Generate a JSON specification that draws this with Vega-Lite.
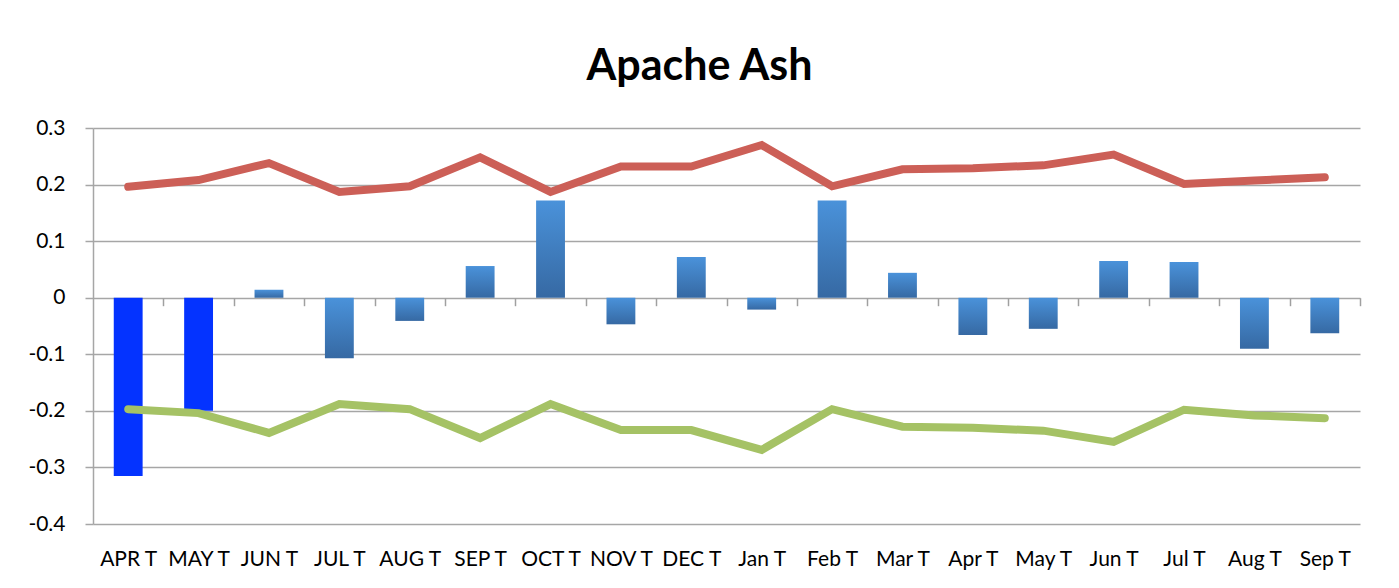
{
  "$schema": "https://vega.github.io/schema/vega-lite/v6.json",
  "width": 1267,
  "height": 396,
  "autosize": {"type": "none"},
  "padding": {"left": 93, "top": 128, "right": 39, "bottom": 64},
  "background": "white",
  "title": {"text": "Apache Ash", "font": "Lato", "fontSize": 43, "fontWeight": "bold", "color": "black", "anchor": "middle", "dx": -27, "offset": 28},
  "config": {
    "view": {"stroke": null},
    "axis": {"labelFont": "Lato", "labelFontSize": 21, "labelColor": "black"}
  },
  "data": {
    "values": [
      {"month": "APR T", "change": -0.315, "upper": 0.196, "lower": -0.197, "group": "highlight"},
      {"month": "MAY T", "change": -0.200, "upper": 0.208, "lower": -0.204, "group": "highlight"},
      {"month": "JUN T", "change": 0.014, "upper": 0.238, "lower": -0.239, "group": "normal"},
      {"month": "JUL T", "change": -0.107, "upper": 0.187, "lower": -0.188, "group": "normal"},
      {"month": "AUG T", "change": -0.041, "upper": 0.197, "lower": -0.197, "group": "normal"},
      {"month": "SEP T", "change": 0.056, "upper": 0.248, "lower": -0.248, "group": "normal"},
      {"month": "OCT T", "change": 0.172, "upper": 0.187, "lower": -0.188, "group": "normal"},
      {"month": "NOV T", "change": -0.047, "upper": 0.232, "lower": -0.234, "group": "normal"},
      {"month": "DEC T", "change": 0.072, "upper": 0.232, "lower": -0.234, "group": "normal"},
      {"month": "Jan T", "change": -0.021, "upper": 0.270, "lower": -0.269, "group": "normal"},
      {"month": "Feb T", "change": 0.172, "upper": 0.197, "lower": -0.197, "group": "normal"},
      {"month": "Mar T", "change": 0.044, "upper": 0.227, "lower": -0.228, "group": "normal"},
      {"month": "Apr T", "change": -0.066, "upper": 0.229, "lower": -0.230, "group": "normal"},
      {"month": "May T", "change": -0.055, "upper": 0.234, "lower": -0.235, "group": "normal"},
      {"month": "Jun T", "change": 0.065, "upper": 0.253, "lower": -0.255, "group": "normal"},
      {"month": "Jul T", "change": 0.063, "upper": 0.201, "lower": -0.198, "group": "normal"},
      {"month": "Aug T", "change": -0.090, "upper": 0.207, "lower": -0.208, "group": "normal"},
      {"month": "Sep T", "change": -0.063, "upper": 0.213, "lower": -0.213, "group": "normal"}
    ]
  },
  "encoding": {
    "x": {
      "field": "month", "type": "ordinal",
      "scale": {
        "domain": ["APR T", "MAY T", "JUN T", "JUL T", "AUG T", "SEP T", "OCT T", "NOV T", "DEC T", "Jan T", "Feb T", "Mar T", "Apr T", "May T", "Jun T", "Jul T", "Aug T", "Sep T"],
        "paddingInner": 0.59, "paddingOuter": 0.295
      },
      "axis": {
        "title": null, "orient": "bottom", "offset": -226.3, "domain": false,
        "ticks": true, "tickColor": "#a0a0a0", "tickWidth": 1.5, "tickSize": 8,
        "tickOffset": 35.2, "labelOffset": -35.2, "labelPadding": 243,
        "labelAngle": 0, "grid": false
      }
    }
  },
  "layer": [
    {
      "transform": [{"filter": "datum.group == 'normal'"}],
      "mark": {
        "type": "bar",
        "color": {"gradient": "linear", "x1": 0, "y1": 0, "x2": 0, "y2": 1,
          "stops": [{"offset": 0, "color": "#4a92da"}, {"offset": 1, "color": "#3669a3"}]}
      },
      "encoding": {
        "y": {"field": "change", "type": "quantitative",
          "scale": {"domain": [-0.4, 0.3], "nice": false, "zero": false},
          "axis": {
            "title": null, "values": [-0.4, -0.3, -0.2, -0.1, 0, 0.1, 0.2, 0.3],
            "labelExpr": "'' + round(datum.value * 10) / 10",
            "grid": true, "gridColor": "#a6a6a6", "gridWidth": 1.5,
            "domainColor": "#a6a6a6", "domainWidth": 1.5,
            "tickColor": "#a6a6a6", "tickWidth": 1.5, "tickSize": 8,
            "labelPadding": 20
          }}
      }
    },
    {
      "transform": [{"filter": "datum.group == 'highlight'"}],
      "mark": {"type": "bar", "color": "#0433ff"},
      "encoding": {"y": {"field": "change", "type": "quantitative", "title": null}}
    },
    {
      "mark": {"type": "line", "color": "#cc5f57", "strokeWidth": 8, "strokeCap": "round", "strokeJoin": "miter"},
      "encoding": {"y": {"field": "upper", "type": "quantitative", "title": null}}
    },
    {
      "mark": {"type": "line", "color": "#a5c265", "strokeWidth": 8, "strokeCap": "round", "strokeJoin": "miter"},
      "encoding": {"y": {"field": "lower", "type": "quantitative", "title": null}}
    }
  ]
}
